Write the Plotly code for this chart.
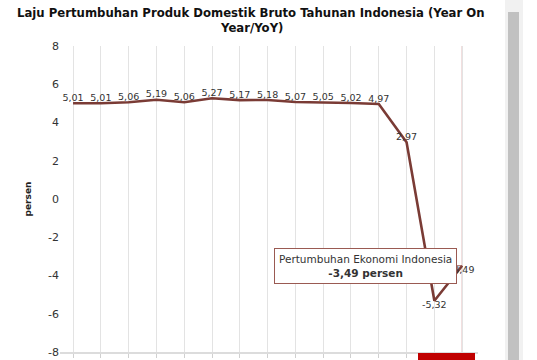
import plotly.graph_objects as go

periods = ["Q1 2017", "Q2 2017", "Q3 2017", "Q4 2017", "Q1 2018", "Q2 2018", "Q3 2018",
           "Q4 2018", "Q1 2019", "Q2 2019", "Q3 2019", "Q4 2019", "Q1 2020", "Q2 2020", "Q3 2020"]
growth = [5.01, 5.01, 5.06, 5.19, 5.06, 5.27, 5.17, 5.18, 5.07, 5.05, 5.02, 4.97, 2.97, -5.32, -3.49]
y_ticks = [-8, -6, -4, -2, 0, 2, 4, 6, 8]
title_lines = ["Laju Pertumbuhan Produk Domestik Bruto Tahunan Indonesia (Year On", "Year/YoY)"]

labels = [f"{v:.2f}".replace(".", ",") for v in growth]
positions = ["top center"] * len(growth)
positions[-2] = "bottom center"
positions[-1] = "bottom center"

xs = list(range(len(periods)))
LINE = "#7a3b35"

L, R, T, B = 60, 478, 46, 352
PW, PH = R - L, B - T

def px(xp):
    return (xp - L) / PW

def py(yp):
    return (B - yp) / PH

fig = go.Figure()
fig.add_trace(go.Scatter(
    x=xs, y=growth, mode="lines+text", text=labels, textposition=positions,
    textfont=dict(family="DejaVu Sans", size=9.5, color="#333333"),
    line=dict(color=LINE, width=2.6), hoverinfo="skip", cliponaxis=False,
))

# crosshair at last point
fig.add_shape(type="line", xref="x", yref="paper", x0=xs[-1], x1=xs[-1], y0=0, y1=1,
              line=dict(color="#e9caca", width=1.5), layer="below")

# tooltip
fig.add_annotation(
    x=xs[-1], y=growth[-1], xref="x", yref="y",
    text="Pertumbuhan Ekonomi Indonesia<br><b>" + labels[-1] + " persen</b>",
    showarrow=True, ax=-97, ay=0, arrowhead=0, arrowwidth=1, arrowcolor="#9a5a52",
    font=dict(family="DejaVu Sans", size=10.5, color="#333333"),
    bgcolor="white", bordercolor="#9a5a52", borderwidth=1, borderpad=4,
)

# title
for i, line in enumerate(title_lines):
    fig.add_annotation(
        x=px(251), y=py(13 + 15 * i), xref="paper", yref="paper",
        text="<b>" + line + "</b>", showarrow=False, xanchor="center", yanchor="middle",
        font=dict(family="DejaVu Sans", size=11.7, color="#111111"),
    )

# red crosshair label at bottom
fig.add_shape(type="rect", xref="paper", yref="paper",
              x0=px(418), x1=px(475), y0=py(360), y1=py(353),
              fillcolor="#c00000", line=dict(width=0))

# scrollbar
fig.add_shape(type="rect", xref="paper", yref="paper",
              x0=px(505), x1=px(523), y0=py(360), y1=py(0),
              fillcolor="#f1f1f1", line=dict(width=0))
fig.add_shape(type="rect", xref="paper", yref="paper",
              x0=px(508), x1=px(519), y0=py(360), y1=py(12),
              fillcolor="#c1c1c1", line=dict(width=0))

fig.update_layout(
    width=537, height=360,
    margin=dict(l=L, r=537 - R, t=T, b=360 - B),
    paper_bgcolor="white", plot_bgcolor="white",
    showlegend=False,
    xaxis=dict(
        range=[-0.47, len(periods) - 1 + 0.57], tickvals=xs, showticklabels=False,
        showgrid=True, gridcolor="#e3e3e3", gridwidth=1,
        showline=True, linecolor="#dcdcdc", linewidth=1.5,
        ticks="outside", ticklen=4, tickcolor="#d0d0d0", zeroline=False,
        automargin=False,
    ),
    yaxis=dict(
        range=[-8, 8], tickvals=y_ticks, ticktext=[str(v) for v in y_ticks],
        showgrid=False, zeroline=False, showline=False, automargin=False,
        tickfont=dict(family="DejaVu Sans", size=11, color="#333333"),
        title=dict(text="<b>persen</b>", font=dict(family="DejaVu Sans", size=9, color="#222222"),
                   standoff=14),
    ),
)

fig.write_html("out.html")
